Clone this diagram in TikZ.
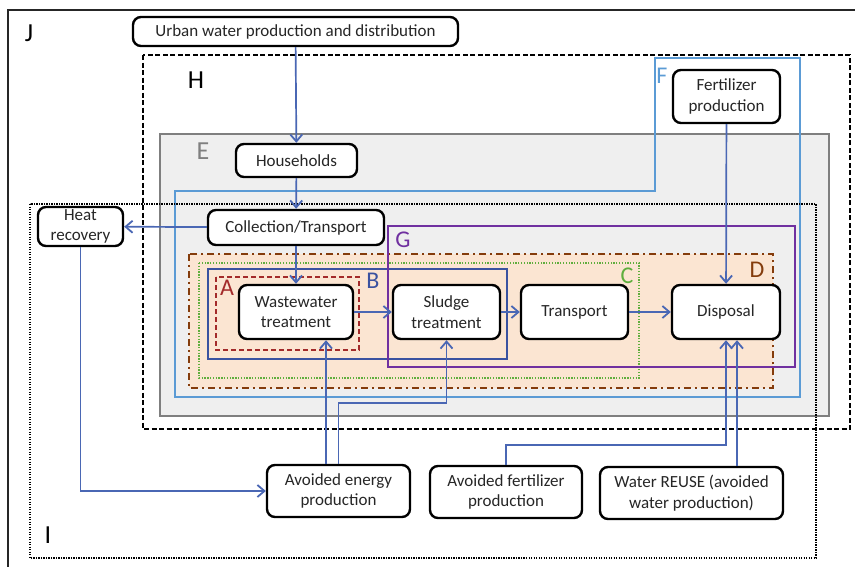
\documentclass[tikz,border=0pt]{standalone}
\usepackage{fontspec}
\setmainfont{Carlito}
\usetikzlibrary{arrows.meta}
\definecolor{flow}{HTML}{4A67B4}
\definecolor{lblue}{HTML}{5B9BD5}
\definecolor{egray}{HTML}{EFEFEF}
\definecolor{eline}{HTML}{7F7F7F}
\definecolor{dfill}{HTML}{FBE5D2}
\definecolor{dline}{HTML}{843C0C}
\definecolor{cgreen}{HTML}{5FAE3E}
\definecolor{bblue}{HTML}{3A52A0}
\definecolor{ared}{HTML}{A32A2A}
\definecolor{gpurple}{HTML}{7030A0}
\begin{document}
\begin{tikzpicture}[x=1pt,y=-1pt,
  box/.style={draw=black, line width=2.4pt, rounded corners=8pt, fill=white,
    align=center, inner sep=2pt, text=black!85, font=\fontsize{17}{20.5}\selectfont},
  arr/.style={draw=flow, line width=1.7pt, -{Straight Barb[length=7pt,width=12pt,line width=1.8pt]}},
  biglbl/.style={font=\fontsize{26}{26}\selectfont, inner sep=0pt},
  lbl/.style={font=\fontsize{24}{24}\selectfont, inner sep=0pt}]
\useasboundingbox (0,0) rectangle (855,566);
\fill[white] (0,0) rectangle (855,566);

% system boundaries
\draw[line width=1.6pt, black!85] (8,570) -- (8,10) -- (860,10);
\draw[line width=1.8pt, dash pattern=on 5pt off 2.5pt] (143,55) rectangle (850,429);
\draw[fill=egray, draw=eline, line width=1.5pt] (160,134) rectangle (829,416);
\draw[lblue, line width=1.3pt] (175,191) -- (655,191) -- (655,58) -- (800,58) -- (800,397) -- (175,397) -- cycle;
\draw[line width=1.8pt, dash pattern=on 1.4pt off 1.1pt] (30,204) rectangle (816,558);
\draw[fill=dfill, draw=dline, line width=1.8pt, dash pattern=on 7pt off 4pt on 2pt off 4pt] (189,254) rectangle (773,388);
\draw[cgreen, line width=1.4pt, dash pattern=on 1.3pt off 1.5pt] (199,263) rectangle (639,378);
\draw[bblue, line width=1.3pt] (208,269) rectangle (507,359);
\draw[ared, line width=1.8pt, dash pattern=on 5pt off 3pt] (216,277) rectangle (359,350);
\draw[gpurple, line width=1.2pt] (388,226) rectangle (795,367);

% boundary letters
\node[biglbl] (lJ) at (29,33) {J};
\node[biglbl] (lH) at (196,80) {H};
\node[biglbl, text=eline] (lE) at (203,151) {E};
\node[lbl, text=lblue] (lF) at (662,76) {F};
\node[lbl, text=gpurple] (lG) at (403,240) {G};
\node[lbl, text=dline] (lD) at (757,270) {D};
\node[lbl, text=cgreen] (lC) at (627,276) {C};
\node[lbl, text=bblue] (lB) at (373,281) {B};
\node[lbl, text=ared] (lA) at (227,288) {A};
\node[biglbl] (lI) at (48,535) {I};

% processes
\node[box, minimum width=325pt, minimum height=29pt] (urban) at (295.5,31.5) {Urban water production and distribution};
\node[box, minimum width=121pt, minimum height=33pt] (house) at (296.5,160.5) {Households};
\node[box, minimum width=176pt, minimum height=35pt] (coll) at (296,227.5) {Collection/Transport};
\node[box, minimum width=85pt, minimum height=39pt] (heat) at (80.5,226.5) {Heat\\recovery};
\node[box, minimum width=114pt, minimum height=54pt] (ww) at (296,312) {Wastewater\\treatment};
\node[box, minimum width=107pt, minimum height=54pt] (sludge) at (446.5,312) {Sludge\\treatment};
\node[box, minimum width=107pt, minimum height=54pt] (trans) at (574.5,312) {Transport};
\node[box, minimum width=108pt, minimum height=54pt] (disp) at (726,312) {Disposal};
\node[box, minimum width=107pt, minimum height=53pt] (fert) at (726.5,96.5) {Fertilizer\\production};
\node[box, minimum width=143pt, minimum height=52pt] (aen) at (338.5,491) {Avoided energy\\production};
\node[box, minimum width=152pt, minimum height=52pt] (afe) at (506,492) {Avoided fertilizer\\production};
\node[box, minimum width=183pt, minimum height=52pt] (wre) at (691.5,493) {Water REUSE (avoided\\water production)};

% flows
\coordinate (xw) at (326,0);
\coordinate (xr) at (737,0);
\draw[arr] (urban) -- (house);
\draw[arr] (house) -- (coll);
\draw[arr] (coll) -- (ww);
\draw[arr] (coll) -- (heat);
\draw[arr] (heat.south) |- (aen.west);
\draw[arr] (ww) -- (sludge);
\draw[arr] (sludge) -- (trans);
\draw[arr] (trans) -- (disp);
\draw[arr] (fert) -- (disp);
\draw[arr] (aen.north -| xw) -- (ww.south -| xw);
\draw[arr] (aen.north) |- ([yshift=-63pt]sludge.south) -- (sludge.south);
\draw[arr] (afe.north) |- ([yshift=-105pt]disp.south) -- (disp.south);
\draw[arr] (wre.north -| xr) -- (disp.south -| xr);
\end{tikzpicture}
\end{document}
